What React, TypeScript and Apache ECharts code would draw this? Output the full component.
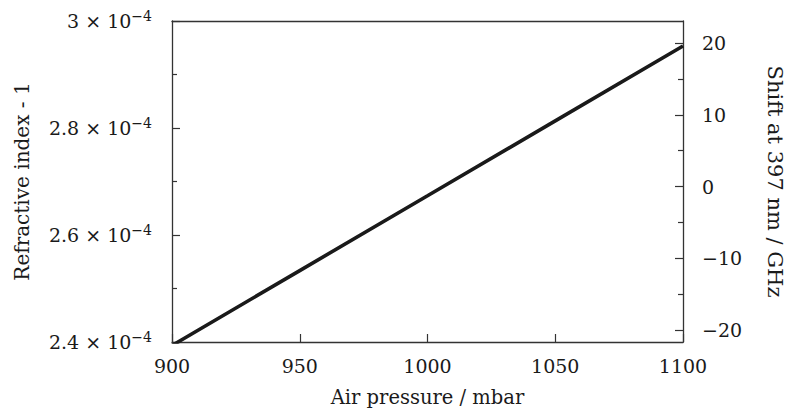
import React, { useEffect, useRef } from "react";
import * as echarts from "echarts";

// Data
const pressureMbar = [900, 950, 1000, 1050, 1100];
const refractiveIndexMinus1 = [2.3935e-4, 2.5335e-4, 2.6733e-4, 2.8133e-4, 2.9533e-4];
const leftRange = [2.4e-4, 3.0e-4];
const leftInterval = 0.2e-4;
const xRange = [900, 1100];
const xInterval = 50;
const shiftRange = [-21.67, 23.07];
const shiftMajorTicks = [-20, -10, 0, 10, 20];
const shiftMinorTicks = [-15, -5, 5, 15];

const FONT = "DejaVu Serif";
const AXIS_COLOR = "#333";
const TEXT_COLOR = "#1a1a1a";
const TICK_FS = 19;

export default function App() {
  const ref = useRef<HTMLDivElement>(null);
  useEffect(() => {
    if (!ref.current) return;
    const chart = echarts.init(ref.current, undefined, { renderer: "svg" });
    const axisLine = { show: true, onZero: false, lineStyle: { color: AXIS_COLOR, width: 1.3 } };
    chart.setOption({
      animation: false,
      backgroundColor: "#fff",
      textStyle: { fontFamily: FONT },
      grid: { left: 172, right: 103, top: 21, bottom: 77, containLabel: false },
      xAxis: [
        {
          type: "value",
          min: xRange[0],
          max: xRange[1],
          interval: xInterval,
          position: "bottom",
          axisLine,
          axisTick: { show: true, inside: true, length: 8, lineStyle: { color: AXIS_COLOR, width: 1.2 } },
          splitLine: { show: false },
          axisLabel: {
            margin: 14,
            fontFamily: FONT,
            fontSize: TICK_FS,
            color: TEXT_COLOR,
            formatter: (v: number) => String(v),
          },
          name: "Air pressure / mbar",
          nameLocation: "middle",
          nameGap: 45,
          nameTextStyle: { fontFamily: FONT, fontSize: 19.5, color: TEXT_COLOR },
        },
        {
          type: "value",
          min: xRange[0],
          max: xRange[1],
          position: "top",
          axisLine,
          axisTick: { show: false },
          axisLabel: { show: false },
          splitLine: { show: false },
        },
      ],
      yAxis: [
        {
          type: "value",
          min: leftRange[0],
          max: leftRange[1],
          interval: leftInterval,
          position: "left",
          axisLine,
          axisTick: { show: true, inside: true, length: 8, lineStyle: { color: AXIS_COLOR, width: 1.2 } },
          minorTick: { show: true, splitNumber: 2, length: 5, lineStyle: { color: AXIS_COLOR, width: 1.2 } },
          splitLine: { show: false },
          minorSplitLine: { show: false },
          axisLabel: {
            margin: 20,
            fontFamily: FONT,
            formatter: (v: number) => {
              const m = Math.round(v * 1e5) / 10;
              return `{n|${m} × 10}{s|−4}`;
            },
            rich: {
              n: { fontFamily: FONT, fontSize: TICK_FS, color: TEXT_COLOR, lineHeight: 24 },
              s: { fontFamily: FONT, fontSize: 14, color: TEXT_COLOR, lineHeight: 14, verticalAlign: "top" },
            },
          },
          name: "Refractive index - 1",
          nameLocation: "middle",
          nameRotate: 90,
          nameGap: 140,
          nameTextStyle: { fontFamily: FONT, fontSize: 20, color: TEXT_COLOR },
        },
        {
          type: "value",
          min: shiftRange[0],
          max: shiftRange[1],
          position: "right",
          axisLine,
          axisTick: {
            show: true,
            inside: true,
            length: 8,
            customValues: shiftMajorTicks,
            lineStyle: { color: AXIS_COLOR, width: 1.2 },
          },
          splitLine: { show: false },
          axisLabel: {
            margin: 19,
            customValues: shiftMajorTicks,
            fontFamily: FONT,
            fontSize: TICK_FS,
            color: TEXT_COLOR,
            formatter: (v: number) => (v < 0 ? "−" + Math.abs(v) : String(v)),
          },
          name: "Shift at 397 nm / GHz",
          nameLocation: "middle",
          nameRotate: -90,
          nameGap: 81,
          nameTextStyle: { fontFamily: FONT, fontSize: 21, color: TEXT_COLOR },
        },
        {
          type: "value",
          min: shiftRange[0],
          max: shiftRange[1],
          position: "right",
          axisLine: { show: false, onZero: false },
          axisTick: {
            show: true,
            inside: true,
            length: 5,
            customValues: shiftMinorTicks,
            lineStyle: { color: AXIS_COLOR, width: 1.2 },
          },
          axisLabel: { show: false },
          splitLine: { show: false },
        },
      ],
      series: [
        {
          type: "line",
          xAxisIndex: 0,
          yAxisIndex: 0,
          data: pressureMbar.map((p, i) => [p, refractiveIndexMinus1[i]]),
          symbol: "none",
          lineStyle: { color: "#1a1a1a", width: 3.6 },
          clip: true,
        },
      ],
    });
    return () => chart.dispose();
  }, []);
  return (
    <div
      ref={ref}
      style={{ position: "fixed", left: 0, top: 0, width: 793, height: 419, background: "#fff" }}
    />
  );
}
